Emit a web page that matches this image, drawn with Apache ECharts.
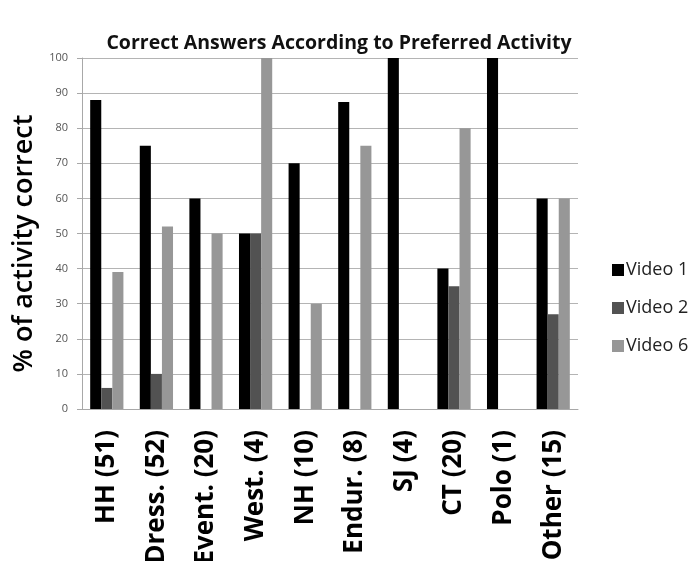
<!DOCTYPE html>
<html>
<head>
<meta charset="utf-8">
<script src="https://cdn.jsdelivr.net/npm/echarts@6/dist/echarts.min.js"></script>
<style>html,body{margin:0;padding:0;background:#fff}#c{width:695px;height:561px}</style>
</head>
<body>
<div id="c"></div>
<script>
var categories = ['HH (51)', 'Dress. (52)', 'Event. (20)', 'West. (4)', 'NH (10)', 'Endur. (8)', 'SJ (4)', 'CT (20)', 'Polo (1)', 'Other (15)'];
var video1 = [88, 75, 60, 50, 70, 87.5, 100, 40, 100, 60];
var video2 = [6, 10, 0, 50, 0, 0, 0, 35, 0, 27];
var video6 = [39, 52, 50, 100, 30, 75, 0, 80, 0, 60];
var yTicks = [0, 10, 20, 30, 40, 50, 60, 70, 80, 90, 100];

var chart = echarts.init(document.getElementById('c'), null, {renderer: 'canvas'});
var font = '"Open Sans", "Liberation Sans", sans-serif';
chart.setOption({
  animation: false,
  title: {
    text: 'Correct Answers According to Preferred Activity',
    left: 334, top: 28, textAlign: 'center',
    textStyle: {fontFamily: font, fontSize: 19.5, fontWeight: 'bold', color: '#111'}
  },
  legend: {
    orient: 'vertical', left: 607, top: 256, itemGap: 20,
    itemWidth: 12, itemHeight: 12, icon: 'rect',
    textStyle: {fontFamily: font, fontSize: 18, color: '#222', padding: [0,0,0,-3]},
    data: ['Video 1', 'Video 2', 'Video 6']
  },
  grid: {left: 82, right: 117, top: 58, bottom: 152, outerBoundsMode: 'none', containLabel: false},
  xAxis: {
    type: 'category', data: categories,
    axisLine: {lineStyle: {color: '#a8a8a8'}},
    axisTick: {show: false},
    axisLabel: {rotate: 90, fontFamily: font, fontSize: 26, fontWeight: 'bold', color: '#000', margin: 21}
  },
  yAxis: {
    type: 'value', min: yTicks[0], max: yTicks[yTicks.length-1], interval: 10,
    name: '% of activity correct', nameLocation: 'middle', nameGap: 40,
    nameTextStyle: {fontFamily: font, fontSize: 27, fontWeight: 600, color: '#000', padding: [0, 20, 0, 0]},
    axisLine: {show: true, lineStyle: {color: '#a8a8a8'}},
    axisTick: {show: true, length: 5, lineStyle: {color: '#a8a8a8'}},
    axisLabel: {fontFamily: font, fontSize: 11, color: '#555', margin: 14},
    splitLine: {lineStyle: {color: '#b4b4b4'}}
  },
  series: [
    {name: 'Video 1', type: 'bar', data: video1, itemStyle: {color: '#000000'}, barGap: '0%', barCategoryGap: '33%'},
    {name: 'Video 2', type: 'bar', data: video2, itemStyle: {color: '#525252'}},
    {name: 'Video 6', type: 'bar', data: video6, itemStyle: {color: '#979797'}}
  ]
});
</script>
</body>
</html>
